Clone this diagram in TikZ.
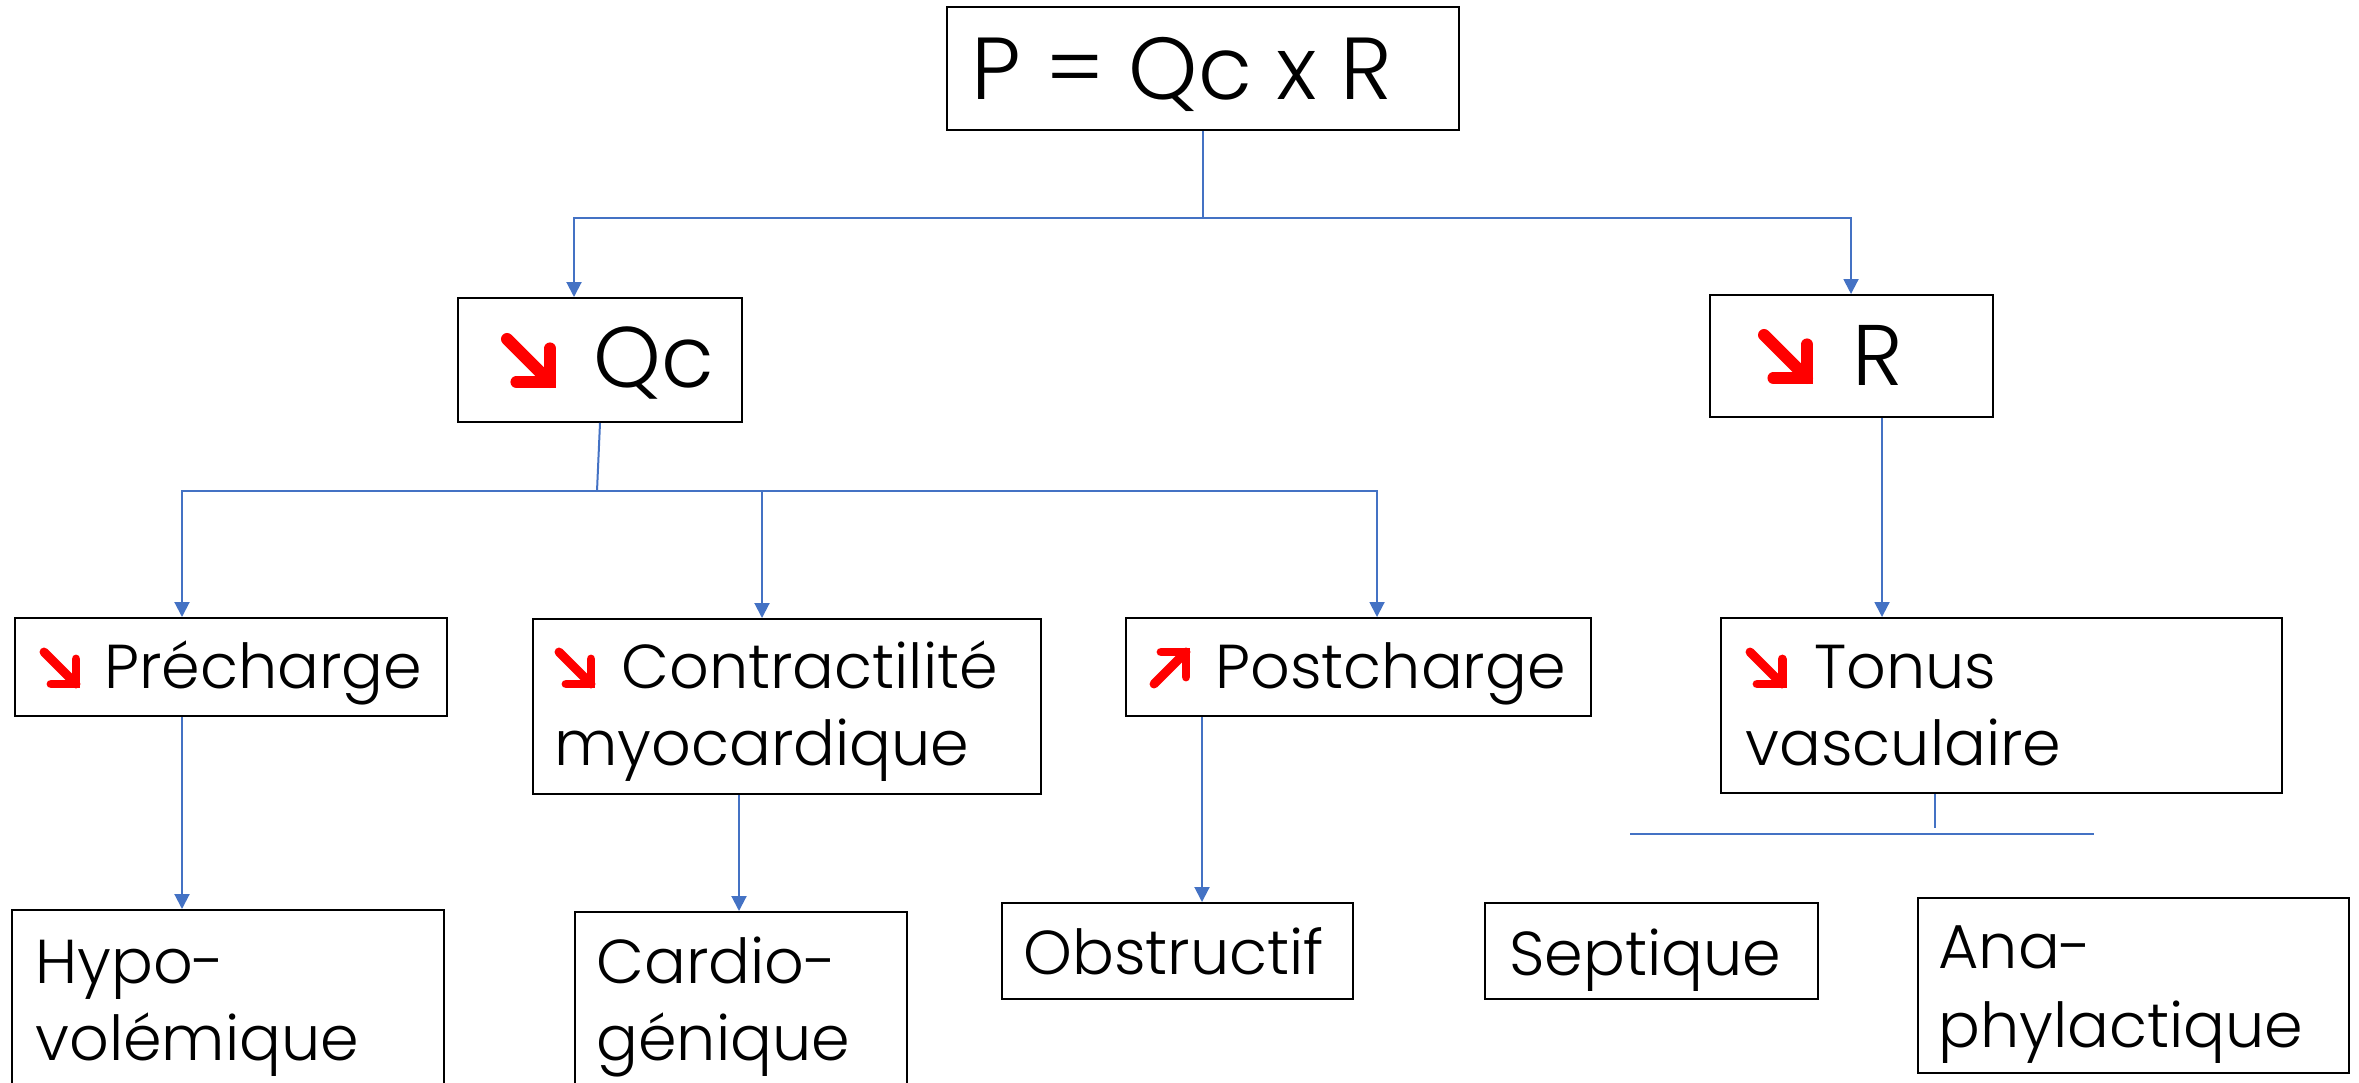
\documentclass[tikz,border=0pt]{standalone}
\usepackage{fontspec}
\IfFontExistsTF{Poppins Light}{\setmainfont{Poppins Light}}{%
  \IfFontExistsTF{Poppins-Light}{\setmainfont{Poppins-Light}}{%
    \IfFontExistsTF{Poppins-Light.ttf}{\setmainfont{Poppins-Light.ttf}}{\setmainfont{Poppins}}}}
\usetikzlibrary{arrows.meta}
\definecolor{linkblue}{RGB}{68,114,196}
\definecolor{alarmred}{RGB}{255,0,0}

\tikzset{
  box/.style={draw=black, line width=1pt, rectangle, inner sep=0pt, anchor=north west},
  txt/.style={anchor=base west, inner sep=0pt, font=\fontsize{31}{38.5}\selectfont},
  bigtxt/.style={anchor=base west, inner sep=0pt, font=\fontsize{44}{52}\selectfont},
  link/.style={draw=linkblue, line width=1pt},
  feed/.style={link, -{Triangle[width=7.5pt,length=7.5pt]}},
  % red "decrease" arrow, #1 = extent in px
  pics/fall/.style={code={
    \draw[alarmred, line width=#1*0.14pt, line cap=round] (0,0) -- (#1,#1);
    \draw[alarmred, line width=#1*0.14pt, line cap=round, line join=miter]
      ({0.22*#1},#1) -- (#1,#1) -- (#1,{0.22*#1});
  }},
  % red "increase" arrow
  pics/rise/.style={code={
    \draw[alarmred, line width=#1*0.14pt, line cap=round] (0,#1) -- (#1,0);
    \draw[alarmred, line width=#1*0.14pt, line cap=round, line join=miter]
      ({0.22*#1},0) -- (#1,0) -- (#1,{0.78*#1});
  }},
}

\begin{document}
\begin{tikzpicture}[x=0.5pt, y=-0.5pt]
\useasboundingbox (0,0) rectangle (2359,1082);
\clip (0,0) rectangle (2359,1082);

% boxes
\node[box, minimum width=256pt,   minimum height=61.5pt] (top)  at (946,6)    {};
\node[box, minimum width=142pt,   minimum height=62pt]   (qc)   at (457,297)  {};
\node[box, minimum width=141.5pt, minimum height=61pt]   (res)  at (1709,294) {};
\node[box, minimum width=216pt,   minimum height=49pt]   (pre)  at (14,617)   {};
\node[box, minimum width=254pt,   minimum height=87.5pt] (con)  at (532,618)  {};
\node[box, minimum width=232.5pt, minimum height=49pt]   (post) at (1125,617) {};
\node[box, minimum width=280.5pt, minimum height=87.5pt] (ton)  at (1720,617) {};
\node[box, minimum width=216pt,   minimum height=96pt]   (hyp)  at (11,909)   {};
\node[box, minimum width=166pt,   minimum height=95pt]   (car)  at (574,911)  {};
\node[box, minimum width=175.5pt, minimum height=48pt]   (obs)  at (1001,902) {};
\node[box, minimum width=166.5pt, minimum height=48pt]   (sep)  at (1484,902) {};
\node[box, minimum width=215.5pt, minimum height=87.5pt] (ana)  at (1917,897) {};

% texts
\node[bigtxt] (topt) at (971,99) {P = Qc x R};
\node[bigtxt, font=\fontsize{43}{50}\selectfont] (qct) at (593,387) {Qc};
\node[bigtxt, font=\fontsize{43}{50}\selectfont] (rest) at (1852,385) {R};
\node[txt] (pret) at (104,688) {Précharge};
\node[txt] (cont) at (554,688) {\vtop{\hbox{\hspace*{33.5pt}Contractilité}\hbox{myocardique}}};
\node[txt] (postt) at (1215,688) {Postcharge};
\node[txt] (tont) at (1745,688) {\vtop{\hbox{\hspace*{34.5pt}Tonus}\hbox{vasculaire}}};
\node[txt] (hypt) at (35,983) {\vtop{\hbox{Hypo-}\hbox{volémique}}};
\node[txt] (cart) at (596,983) {\vtop{\hbox{Cardio-}\hbox{génique}}};
\node[txt] (obst) at (1023,974) {Obstructif};
\node[txt] (sept) at (1509,975) {Septique};
\node[txt, font=\fontsize{31}{39.5}\selectfont] (anat) at (1938,968) {\vtop{\hbox{Ana-}\hbox{phylactique}}};

% red trend arrows
\pic at (507,339) {fall=43};
\pic at (1764,335) {fall=43};
\pic at (44,652) {fall=32};
\pic at (559,652) {fall=32};
\pic at (1750,652) {fall=32};
\pic at (1154,652) {rise=32};

% connector positions
\coordinate (bus1) at (0,218);
\coordinate (bus2) at (597,491);
\coordinate (xqc) at (574,0);
\coordinate (xres) at (1851,0);
\coordinate (xpre) at (182,0);
\coordinate (xcon) at (762,0);
\coordinate (xpost) at (1377,0);
\coordinate (xton) at (1882,0);
\coordinate (xcar) at (739,0);
\coordinate (xobs) at (1202,0);
\coordinate (xvasc) at (1935,0);
\coordinate (split) at (1935,828);
\coordinate (splitL) at (1630,834);
\coordinate (splitR) at (2094,834);

% connectors
\draw[feed] (top.south) -- (top.south |- bus1) -| (qc.north -| xqc);
\draw[feed] (top.south |- bus1) -| (res.north -| xres);
\draw[link] (qc.south) -- (bus2);
\draw[feed] (bus2) -| (pre.north -| xpre);
\draw[feed] (bus2) -| (post.north -| xpost);
\draw[feed] (bus2 -| xcon) -- (con.north -| xcon);
\draw[feed] (res.south -| xton) -- (ton.north -| xton);
\draw[feed] (pre.south -| xpre) -- (hyp.north -| xpre);
\draw[feed] (con.south -| xcar) -- (car.north -| xcar);
\draw[feed] (post.south -| xobs) -- (obs.north -| xobs);
\draw[link] (ton.south -| xvasc) -- (split);
\draw[link] (splitL) -- (splitR);
\end{tikzpicture}
\end{document}
